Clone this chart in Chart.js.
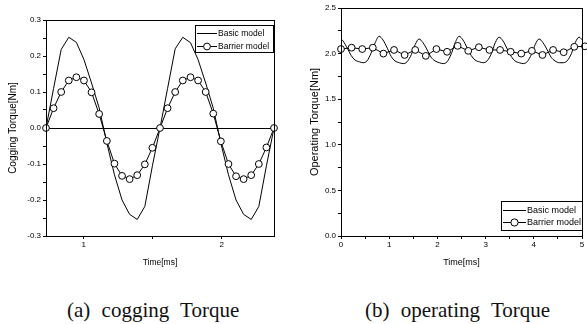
<!DOCTYPE html>
<html>
<head>
<meta charset="utf-8">
<title>Cogging and operating torque</title>
<script src="https://cdn.jsdelivr.net/npm/chart.js@4.4.1/dist/chart.umd.min.js"></script>
<style>
  html, body { margin: 0; padding: 0; background: #fff; }
  #page { position: relative; width: 587px; height: 324px; overflow: hidden; }
  canvas { position: absolute; top: 0; }
  #coggingChart { left: 0; }
  #operatingChart { left: 295px; }
  .caption {
    position: absolute; top: 298px; white-space: nowrap; color: #111;
    font-family: "Liberation Serif", "DejaVu Serif", serif; font-size: 21px; word-spacing: 6px;
  }
</style>
</head>
<body>
<div id="page">
  <canvas id="coggingChart" width="290" height="268"></canvas>
  <canvas id="operatingChart" width="292" height="268"></canvas>
  <div class="caption" style="left:67px">(a) cogging Torque</div>
  <div class="caption" style="left:365px">(b) operating Torque</div>
</div>
<script>
// series names (legend)
const seriesNames = ["Basic model", "Barrier model"];

// (a) cogging torque, time in ms
const coggingTime = [0.727, 0.782, 0.837, 0.892, 0.947, 1.002, 1.057, 1.112, 1.168, 1.223,
  1.278, 1.333, 1.388, 1.443, 1.498, 1.553, 1.608, 1.663, 1.718, 1.774,
  1.829, 1.884, 1.939, 1.994, 2.049, 2.104, 2.159, 2.214, 2.269, 2.324, 2.379];
const coggingBasic = [0, 0.11, 0.218, 0.252, 0.238, 0.19, 0.125, 0.056, -0.042, -0.13,
  -0.2, -0.24, -0.254, -0.218, -0.105, 0, 0.11, 0.22, 0.252, 0.237,
  0.19, 0.125, 0.055, -0.042, -0.13, -0.2, -0.24, -0.254, -0.218, -0.105, 0];
const coggingBarrier = [0, 0.055, 0.1, 0.132, 0.141, 0.132, 0.099, 0.039, -0.036, -0.099,
  -0.133, -0.142, -0.131, -0.101, -0.055, 0, 0.055, 0.1, 0.132, 0.141,
  0.132, 0.1, 0.04, -0.037, -0.1, -0.134, -0.142, -0.131, -0.1, -0.054, 0];

// (b) operating torque
const operTimeBasic = [-0.04, 0.04, 0.13, 0.21, 0.29, 0.38, 0.46, 0.54, 0.62, 0.71,
  0.79, 0.87, 0.96, 1.04, 1.12, 1.21, 1.29, 1.37, 1.46, 1.54,
  1.62, 1.70, 1.79, 1.87, 1.95, 2.04, 2.12, 2.20, 2.29, 2.37,
  2.45, 2.53, 2.62, 2.70, 2.78, 2.87, 2.95, 3.03, 3.12, 3.20,
  3.28, 3.36, 3.45, 3.53, 3.61, 3.70, 3.78, 3.86, 3.95, 4.03,
  4.11, 4.19, 4.28, 4.36, 4.44, 4.53, 4.61, 4.69, 4.78, 4.86,
  4.94, 5.02];
const operBasic = [2.18, 2.14, 2.06, 1.98, 1.93, 1.91, 1.90, 1.92, 2.00, 2.12,
  2.19, 2.15, 2.06, 1.97, 1.92, 1.90, 1.89, 1.91, 1.99, 2.10,
  2.16, 2.12, 2.04, 1.96, 1.92, 1.90, 1.89, 1.91, 2.00, 2.12,
  2.19, 2.15, 2.06, 1.98, 1.93, 1.91, 1.90, 1.92, 2.00, 2.12,
  2.18, 2.14, 2.05, 1.97, 1.92, 1.90, 1.89, 1.91, 1.99, 2.10,
  2.16, 2.12, 2.04, 1.96, 1.92, 1.90, 1.90, 1.92, 2.00, 2.12,
  2.18, 2.14];
const operTimeBarrier = [0, 0.22, 0.44, 0.66, 0.88, 1.10, 1.32, 1.54, 1.76, 1.98,
  2.20, 2.42, 2.64, 2.86, 3.08, 3.30, 3.52, 3.74, 3.96, 4.18,
  4.40, 4.62, 4.84, 5.06];
const operBarrier = [2.05, 2.065, 2.05, 2.065, 2.00, 2.04, 1.985, 2.04, 1.975, 2.05,
  2.02, 2.085, 2.03, 2.07, 2.04, 2.04, 2.02, 2.00, 2.03, 1.985,
  2.04, 2.015, 2.075, 2.08];

const FONT = "'Liberation Sans', Arial, sans-serif";

function pts(xs, ys) {
  return xs.map((x, i) => ({ x: x, y: ys[i] }));
}

// frame around plot area + boxed legend inside it
const frameLegend = {
  id: "frameLegend",
  afterDraw(chart, args, opts) {
    const ctx = chart.ctx;
    const a = chart.chartArea;
    ctx.save();
    ctx.strokeStyle = "#000";
    ctx.lineWidth = 1;
    ctx.strokeRect(Math.round(a.left) + 0.5, Math.round(a.top) + 0.5,
      Math.round(a.right - a.left), Math.round(a.bottom - a.top));

    // legend
    ctx.fillStyle = "#fff";
    ctx.fillRect(opts.x, opts.y, opts.w, opts.h);
    ctx.strokeRect(opts.x + 0.5, opts.y + 0.5, opts.w, opts.h);
    ctx.font = opts.font;
    ctx.textBaseline = "middle";
    seriesNames.forEach((name, i) => {
      const y = opts.y + opts.rows[i];
      ctx.beginPath();
      ctx.moveTo(opts.x + opts.line[0], y + 0.5);
      ctx.lineTo(opts.x + opts.line[1], y + 0.5);
      ctx.stroke();
      if (i === 1) {
        ctx.beginPath();
        ctx.arc(opts.x + (opts.line[0] + opts.line[1]) / 2, y + 0.5, opts.r, 0, Math.PI * 2);
        ctx.fillStyle = "#fff";
        ctx.fill();
        ctx.stroke();
      }
      ctx.fillStyle = "#000";
      ctx.fillText(name, opts.x + opts.text, y + 0.5);
    });
    ctx.restore();
  }
};

function makeChart(id, cfg) {
  return new Chart(document.getElementById(id), {
    type: "line",
    data: {
      datasets: [
        {
          label: seriesNames[0],
          data: pts(cfg.basicX, cfg.basicY),
          borderColor: "#000",
          borderWidth: 1,
          pointRadius: 0,
          cubicInterpolationMode: cfg.smooth ? "monotone" : "default",
          tension: 0,
          order: 1
        },
        {
          label: seriesNames[1],
          data: pts(cfg.barrierX, cfg.barrierY),
          borderColor: "#000",
          borderWidth: 1,
          pointRadius: 3.4,
          pointBackgroundColor: "#fff",
          pointBorderColor: "#000",
          pointBorderWidth: 1,
          tension: 0,
          clip: false,
          order: 0
        }
      ]
    },
    options: {
      responsive: false,
      animation: false,
      devicePixelRatio: 1,
      layout: { padding: cfg.padding },
      plugins: {
        legend: { display: false },
        tooltip: { enabled: false },
        frameLegend: cfg.legend
      },
      scales: {
        x: {
          type: "linear",
          min: cfg.xMin,
          max: cfg.xMax,
          afterFit: s => { s.height = cfg.xHeight; s.paddingLeft = 0; s.paddingRight = 0; },
          border: { color: "#000", width: 1 },
          grid: { drawOnChartArea: false, tickLength: 3, tickColor: "#000" },
          ticks: {
            stepSize: cfg.xStep,
            includeBounds: false,
            autoSkip: false,
            maxRotation: 0,
            padding: 1,
            color: "#000",
            font: { family: FONT, size: 8 },
            callback: v => Number.isInteger(v) ? String(v) : ""
          },
          title: { display: true, text: "Time[ms]", color: "#000", padding: 0,
                   font: { family: FONT, size: cfg.xTitleSize } }
        },
        y: {
          min: cfg.yMin,
          max: cfg.yMax,
          afterFit: s => { s.width = cfg.yWidth; s.paddingTop = 0; s.paddingBottom = 0; },
          border: { color: "#000", width: 1 },
          grid: {
            drawOnChartArea: cfg.zeroLine,
            color: c => (c.tick && Math.abs(c.tick.value) < 1e-9) ? "#000" : "rgba(0,0,0,0)",
            tickLength: 3,
            tickColor: "#000"
          },
          ticks: {
            stepSize: cfg.yStep,
            autoSkip: false,
            padding: 2,
            color: "#000",
            font: { family: FONT, size: 8 },
            callback: v => (Math.abs(Math.round(v * 100)) % cfg.yMajor === 0) ? v.toFixed(1) : ""
          },
          title: { display: true, text: cfg.yTitle, color: "#000", padding: 0,
                   font: { family: FONT, size: cfg.yTitleSize } }
        }
      }
    },
    plugins: [frameLegend]
  });
}

makeChart("coggingChart", {
  basicX: coggingTime, basicY: coggingBasic,
  barrierX: coggingTime, barrierY: coggingBarrier,
  smooth: false, zeroLine: true,
  xMin: 0.727, xMax: 2.379, xStep: 0.5,
  yMin: -0.3, yMax: 0.3, yStep: 0.05, yMajor: 10,
  yTitle: "Cogging Torque[Nm]", yTitleSize: 10, xTitleSize: 8.5,
  padding: { left: 7, right: 16, top: 20, bottom: 0 },
  yWidth: 39, xHeight: 32,
  legend: { x: 195, y: 25, w: 78, h: 27, rows: [8, 21], line: [2, 22], text: 23, r: 3.4,
            font: "8.5px " + FONT }
});

makeChart("operatingChart", {
  basicX: operTimeBasic, basicY: operBasic,
  barrierX: operTimeBarrier, barrierY: operBarrier,
  smooth: true, zeroLine: false,
  xMin: 0, xMax: 5, xStep: 0.5,
  yMin: 0, yMax: 2.5, yStep: 0.25, yMajor: 50,
  yTitle: "Operating Torque[Nm]", yTitleSize: 11, xTitleSize: 9,
  padding: { left: 13, right: 1, top: 8, bottom: 0 },
  yWidth: 33, xHeight: 32,
  legend: { x: 206, y: 201, w: 81, h: 29, rows: [9, 21], line: [2, 25], text: 26, r: 3.6,
            font: "9px " + FONT }
});
</script>
</body>
</html>
